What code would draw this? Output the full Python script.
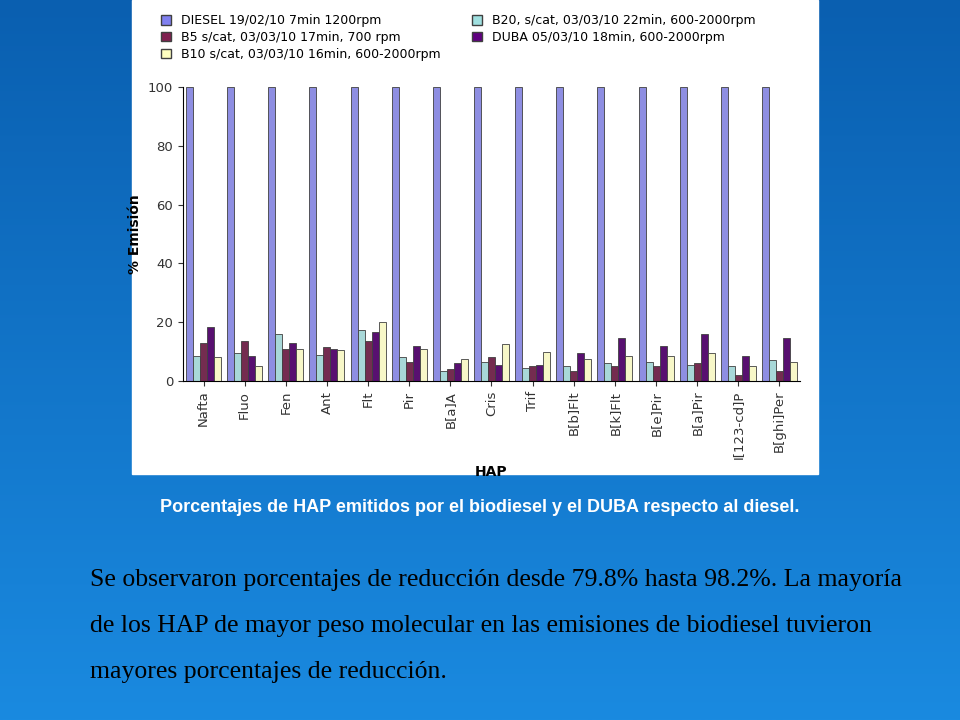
import numpy as np, pandas as pd, matplotlib
matplotlib.use("Agg")
import matplotlib.pyplot as plt, seaborn as sns

categories = ["Nafta","Fluo","Fen","Ant","Flt","Pir","B[a]A","Cris","Trif","B[b]Flt","B[k]Flt","B[e]Pir","B[a]Pir","I[123-cd]P","B[ghi]Per"]
series = ["DIESEL 19/02/10 7min 1200rpm","B20, s/cat, 03/03/10 22min, 600-2000rpm","B5 s/cat, 03/03/10 17min, 700 rpm","DUBA 05/03/10 18min, 600-2000rpm","B10 s/cat, 03/03/10 16min, 600-2000rpm"]
diesel = [100]*15
b20  = [8.5,9.5,16,9,17.5,8,3.5,6.5,4.5,5,6,6.5,5.5,5,7]
b5   = [13,13.5,11,11.5,13.5,6.5,4,8,5,3.5,5,5,6,2,3.5]
duba = [18.5,8.5,13,11,16.5,12,6,5.5,5.5,9.5,14.5,12,16,8.5,14.5]
b10  = [8,5,11,10.5,20,11,7.5,12.5,10,7.5,8.5,8.5,9.5,5,6.5]
colors = ["#8080f0","#a0e0e0","#802050","#600080","#ffffc0"]

rows=[]
for s,vals in zip(series,[diesel,b20,b5,duba,b10]):
    for c,v in zip(categories,vals): rows.append((c,s,v))
df=pd.DataFrame(rows,columns=["HAP","serie","val"])

fig=plt.figure(figsize=(9.6,7.2),dpi=100)
bg=fig.add_axes([0,0,1,1]); bg.axis("off")
g=np.linspace(0,1,256).reshape(-1,1)
bg.imshow(g,aspect="auto",cmap=matplotlib.colors.LinearSegmentedColormap.from_list("b",["#0a5fb0","#1a8ae0"]),extent=[0,1,0,1])
bg.add_patch(plt.Rectangle((132/960,1-474/720),686/960,474/720,color="white",transform=bg.transAxes))
bg.set_xlim(0,1); bg.set_ylim(0,1)

ax=fig.add_axes([183/960,1-381/720,617/960,294/720])
sns.barplot(data=df,x="HAP",y="val",hue="serie",palette=colors,ax=ax,width=0.85,edgecolor="#404040",linewidth=0.6,legend=False)
ax.set_ylim(0,100); ax.set_yticks(range(0,101,20))
ax.set_xlim(-0.5,14.5)
ax.set_ylabel("% Emisión",fontsize=10,fontweight="bold")
ax.set_xlabel("HAP",fontsize=10,fontweight="bold")
ax.tick_params(axis="x",rotation=90,labelsize=9.5,colors="#333333")
ax.tick_params(axis="y",labelsize=9.5,colors="#333333")
for s in ["top","right"]: ax.spines[s].set_visible(False)
from matplotlib.patches import Patch
order=[0,2,4,1,3]
h=[Patch(facecolor=colors[i],edgecolor="#404040",label=series[i]) for i in order]
fig.legend(handles=h,loc="upper left",bbox_to_anchor=(150/960,1-3/720),ncol=2,frameon=False,fontsize=9,handlelength=0.8,handleheight=0.8,columnspacing=2.5,labelspacing=0.3)
fig.text(0.5,1-508/720,"Porcentajes de HAP emitidos por el biodiesel y el DUBA respecto al diesel.",ha="center",va="center",color="white",fontsize=13,fontweight="bold",family="Liberation Sans")
body=["Se observaron porcentajes de reducción desde 79.8% hasta 98.2%. La mayoría","de los HAP de mayor peso molecular en las emisiones de biodiesel tuvieron","mayores porcentajes de reducción."]
for i,t in enumerate(body):
    fig.text(90/960,1-(580+46*i)/720,t,ha="left",va="center",color="black",fontsize=18.5,family="Liberation Serif")
fig.savefig("out.png",dpi=100)
